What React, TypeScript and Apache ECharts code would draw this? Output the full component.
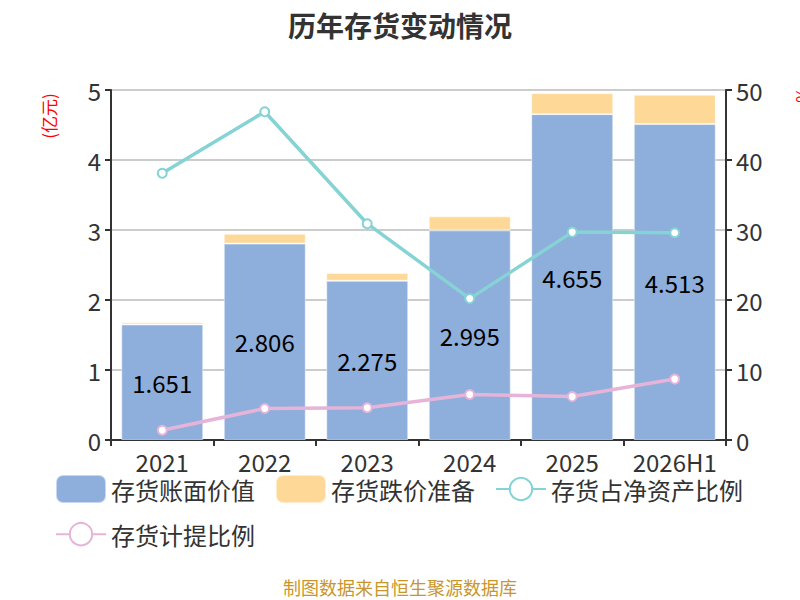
import { useEffect, useRef } from 'react'
import * as echarts from 'echarts'

const years = ['2021', '2022', '2023', '2024', '2025', '2026H1']
const bookValue = [1.651, 2.806, 2.275, 2.995, 4.655, 4.513] // 亿元
const impairment = [0.03, 0.14, 0.11, 0.2, 0.3, 0.42] // 亿元
const netAssetRatio = [38.1, 46.9, 30.9, 20.2, 29.7, 29.6] // %
const provisionRatio = [1.4, 4.5, 4.6, 6.5, 6.2, 8.7] // %

const FONT = '"Noto Sans CJK SC", "Noto Sans", sans-serif'

const legendBase = {
  left: 50,
  itemWidth: 50,
  itemHeight: 28,
  itemGap: 20,
  textStyle: { fontSize: 24, color: '#333', fontFamily: FONT }
}

export default function App() {
  const chartRef = useRef<HTMLDivElement>(null)

  useEffect(() => {
    if (!chartRef.current) return

    const chart = echarts.init(chartRef.current, null, { renderer: 'svg' })

    const option = {
      animation: false,
      textStyle: { fontFamily: FONT },
      title: {
        text: '历年存货变动情况',
        left: 'center',
        top: 6,
        textStyle: { fontSize: 28, fontWeight: 'bold', color: '#333', fontFamily: FONT }
      },
      grid: {
        left: 111,
        right: 74,
        top: 90,
        bottom: 160
      },
      legend: [
        { ...legendBase, top: 469, data: ['存货账面价值', '存货跌价准备', '存货占净资产比例'] },
        { ...legendBase, top: 517, data: ['存货计提比例'] }
      ],
      graphic: [
        {
          type: 'text',
          x: 48,
          y: 116,
          rotation: Math.PI / 2,
          style: {
            text: '(亿元)',
            fill: '#ff0000',
            fontSize: 17,
            fontFamily: FONT,
            align: 'center',
            verticalAlign: 'middle'
          }
        },
        {
          type: 'text',
          x: 801,
          y: 95,
          rotation: Math.PI / 2,
          style: {
            text: '%',
            fill: '#ff0000',
            fontSize: 17,
            fontFamily: FONT,
            align: 'center',
            verticalAlign: 'middle'
          }
        },
        {
          type: 'text',
          left: 'center',
          top: 578,
          style: {
            text: '制图数据来自恒生聚源数据库',
            fill: '#c9962c',
            fontSize: 18,
            fontFamily: FONT
          }
        }
      ],
      xAxis: {
        type: 'category',
        data: years,
        axisLine: { lineStyle: { color: '#333', width: 2 } },
        axisTick: { show: true, length: 6, lineStyle: { color: '#333', width: 2 } },
        axisLabel: { fontSize: 24, color: '#333', margin: 9, interval: 0 }
      },
      yAxis: [
        {
          type: 'value',
          min: 0,
          max: 5,
          interval: 1,
          axisLine: { show: true, lineStyle: { color: '#333', width: 2 } },
          axisTick: { show: true, length: 6, lineStyle: { color: '#333', width: 2 } },
          axisLabel: { fontSize: 24, color: '#333', margin: 10 },
          splitLine: { lineStyle: { color: '#ccc', width: 2 } }
        },
        {
          type: 'value',
          min: 0,
          max: 50,
          interval: 10,
          axisLine: { show: true, lineStyle: { color: '#333', width: 2 } },
          axisTick: { show: true, length: 6, lineStyle: { color: '#333', width: 2 } },
          axisLabel: { fontSize: 24, color: '#333', margin: 10 },
          splitLine: { show: false }
        }
      ],
      series: [
        {
          name: '存货账面价值',
          type: 'bar',
          stack: 'inv',
          barWidth: '80%',
          data: bookValue,
          itemStyle: { color: '#8eaedb', borderColor: 'rgba(255,255,255,0.5)', borderWidth: 1 },
          label: {
            show: true,
            position: 'inside',
            fontSize: 24,
            color: '#000',
            formatter: (p: any) => p.value.toFixed(3)
          }
        },
        {
          name: '存货跌价准备',
          type: 'bar',
          stack: 'inv',
          data: impairment,
          itemStyle: { color: '#fed897', borderColor: 'rgba(255,255,255,0.5)', borderWidth: 1 }
        },
        {
          name: '存货占净资产比例',
          type: 'line',
          yAxisIndex: 1,
          data: netAssetRatio,
          symbol: 'circle',
          symbolSize: 9,
          lineStyle: { color: '#86d3d5', width: 3.5 },
          itemStyle: { color: '#fff', borderColor: '#86d3d5', borderWidth: 2 }
        },
        {
          name: '存货计提比例',
          type: 'line',
          yAxisIndex: 1,
          data: provisionRatio,
          symbol: 'circle',
          symbolSize: 9,
          lineStyle: { color: '#e6b4d8', width: 3.5 },
          itemStyle: { color: '#fff', borderColor: '#e6b4d8', borderWidth: 2 }
        }
      ]
    }

    chart.setOption(option)

    return () => {
      chart.dispose()
    }
  }, [])

  return (
    <div
      ref={chartRef}
      style={{ position: 'absolute', left: 0, top: 0, width: 800, height: 600 }}
    />
  )
}
